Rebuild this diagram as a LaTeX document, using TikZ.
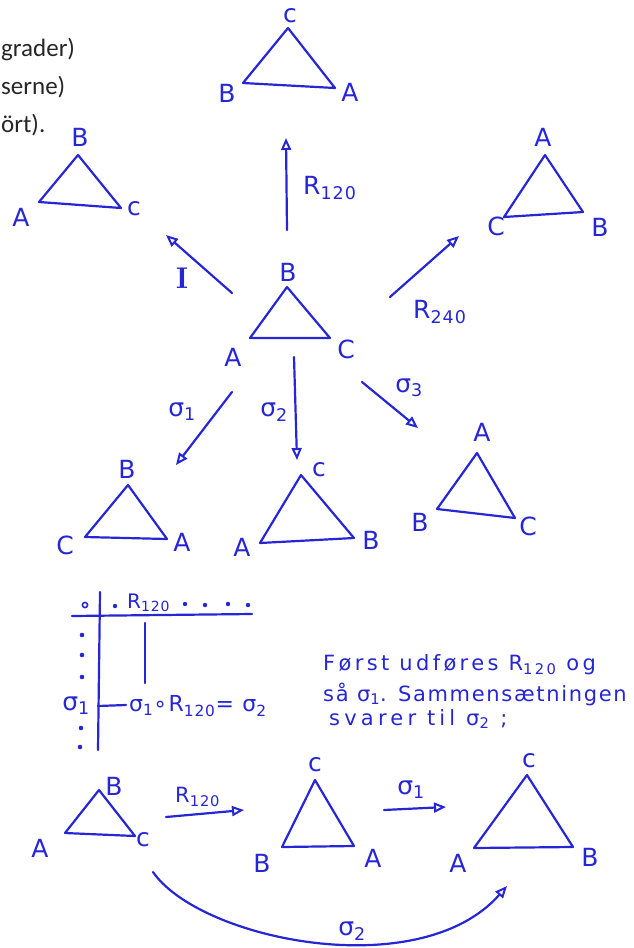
\documentclass[tikz,border=0pt]{standalone}
\usepackage{fontspec}
\setmainfont{Carlito}
\newfontfamily\hand[LetterSpace=6]{DejaVu Sans}
\usepackage{xcolor}
\usepackage{tikz}
\usetikzlibrary{arrows.meta}
\definecolor{ink}{RGB}{38,38,212}
\definecolor{slide}{RGB}{38,38,38}

\begin{document}
\begin{tikzpicture}[x=1pt, y=-1pt,
    pen/.style={ink, line width=2.2pt, line join=round, line cap=round},
    arr/.style={pen, -{Triangle[open, length=12pt, width=10pt, line width=2pt]}},
    lbl/.style={text=ink, inner sep=0pt, font=\hand\fontsize{25}{27}\selectfont},
    sm/.style={lbl, font=\hand\fontsize{20}{22}\selectfont},
    note/.style={lbl, anchor=west, font=\hand\fontsize{21}{24}\selectfont},
    slidetxt/.style={anchor=base west, inner sep=0pt, font=\fontsize{25}{28}\selectfont, text=slide}]
  \useasboundingbox (0,0) rectangle (633,948);

  \node[slidetxt] (line1) at (1,56) {grader)};
  \node[slidetxt] (line2) at (1,94) {serne)};
  \node[slidetxt] (line3) at (1,132) {ört).};

  % start position
  \draw[pen] (250,338) -- (287,287) -- (330,338) -- cycle;
  \node[lbl] (midB) at (288,272) {B};
  \node[lbl] (midA) at (233,357) {A};
  \node[lbl] (midC) at (346,349) {C};

  % results of the six moves
  \draw[pen] (243,83) -- (288,28) -- (335,88) -- cycle;
  \node[lbl] (topC) at (290,16) {c};
  \node[lbl] (topB) at (227,93) {B};
  \node[lbl] (topA) at (350,92) {A};

  \draw[pen] (39,202) -- (78,155) -- (121,208) -- cycle;
  \node[lbl] (idB) at (80,137) {B};
  \node[lbl] (idA) at (21,217) {A};
  \node[lbl] (idC) at (134,209) {c};

  \draw[pen] (504,217) -- (545,155) -- (583,212) -- cycle;
  \node[lbl] (rgtA) at (543,137) {A};
  \node[lbl] (rgtC) at (496,226) {C};
  \node[lbl] (rgtB) at (600,227) {B};

  \draw[pen] (85,537) -- (128,485) -- (167,539) -- cycle;
  \node[lbl] (oneB) at (127,469) {B};
  \node[lbl] (oneC) at (65,545) {C};
  \node[lbl] (oneA) at (182,542) {A};

  \draw[pen] (260,543) -- (301,475) -- (354,538) -- cycle;
  \node[lbl] (twoC) at (319,470) {c};
  \node[lbl] (twoA) at (242,547) {A};
  \node[lbl] (twoB) at (371,540) {B};

  \draw[pen] (437,509) -- (477,453) -- (515,518) -- cycle;
  \node[lbl] (thrA) at (482,432) {A};
  \node[lbl] (thrB) at (420,522) {B};
  \node[lbl] (thrC) at (528,526) {C};

  % moves
  \coordinate (idS) at (232,293);  \coordinate (idE) at (166,235);
  \coordinate (r1S) at (287,230);  \coordinate (r1E) at (286,138);
  \coordinate (r2S) at (390,297);  \coordinate (r2E) at (459,236);
  \coordinate (s1S) at (232,392);  \coordinate (s1E) at (176,465);
  \coordinate (s2S) at (294,357);  \coordinate (s2E) at (297,460);
  \coordinate (s3S) at (362,382);  \coordinate (s3E) at (418,428);
  \draw[arr] (idS) -- (idE);
  \draw[arr] (r1S) -- (r1E);
  \draw[arr] (r2S) -- (r2E);
  \draw[arr] (s1S) -- (s1E);
  \draw[arr] (s2S) -- (s2E);
  \draw[arr] (s3S) -- (s3E);
  \node[lbl, font=\fontfamily{lmr}\selectfont\fontsize{30}{32}\selectfont\bfseries] (idL) at (182,278) {I};
  \node[lbl, anchor=west] (r1L) at (303,188) {R\textsubscript{120}};
  \node[lbl, anchor=west] (r2L) at (413,312) {R\textsubscript{240}};
  \node[lbl] (s1L) at (182,412) {σ\textsubscript{1}};
  \node[lbl] (s2L) at (274,412) {σ\textsubscript{2}};
  \node[lbl] (s3L) at (409,388) {σ\textsubscript{3}};

  % table
  \draw[pen, line width=1.6pt] (85,605) circle (2.6);
  \coordinate (op) at (85,605);
  \draw[pen] (100,592) -- (98,750);
  \draw[pen] (72,616) -- (252,614);
  \node[sm, anchor=west] (colR) at (127,603) {R\textsubscript{120}};
  \draw[pen] (145,623) -- (145,683);
  \fill[ink] (115,606) circle (2.2) (185,604) circle (2.2) (205,605) circle (2.2)
             (228,604) circle (2.2) (248,605) circle (2.2);
  \fill[ink] (82,635) circle (2.3) (82,655) circle (2.3) (82,677) circle (2.3)
             (81,728) circle (2.3) (80,747) circle (2.3);
  \node[lbl] (rowS) at (76,706) {σ\textsubscript{1}};
  \coordinate (dashE) at (126,705);
  \draw[pen] (rowS.east) ++(8,0) -- (dashE);
  \node[lbl, anchor=west, font=\hand\fontsize{22}{24}\selectfont] (prod) at (129,706)
    {σ\textsubscript{1}∘R\textsubscript{120}= σ\textsubscript{2}};

  \node[note, font=\hand\addfontfeature{LetterSpace=16}\fontsize{21}{24}\selectfont] (txt1) at (323,665)
    {Først udføres R\textsubscript{120} og};
  \node[note, font=\hand\addfontfeature{LetterSpace=8}\fontsize{21}{24}\selectfont] (txt2) at (323,694)
    {så σ\textsubscript{1}. Sammensætningen};
  \node[note, font=\hand\addfontfeature{LetterSpace=20}\fontsize{21}{24}\selectfont] (txt3) at (329,719)
    {svarer til σ\textsubscript{2} ;};

  % composition
  \draw[pen] (65,833) -- (99,790) -- (135,836) -- cycle;
  \node[lbl] (aB) at (114,786) {B};
  \node[lbl] (aA) at (40,848) {A};
  \node[lbl] (aC) at (143,840) {c};

  \draw[pen] (282,847) -- (315,780) -- (354,846) -- cycle;
  \node[lbl] (bC) at (315,765) {c};
  \node[lbl] (bB) at (262,863) {B};
  \node[lbl] (bA) at (373,858) {A};

  \draw[pen] (474,848) -- (527,775) -- (573,847) -- cycle;
  \node[lbl] (cC) at (529,761) {c};
  \node[lbl] (cA) at (458,863) {A};
  \node[lbl] (cB) at (590,857) {B};

  \coordinate (m1S) at (166,817);  \coordinate (m1E) at (244,810);
  \coordinate (m2S) at (384,810);  \coordinate (m2E) at (446,807);
  \coordinate (m3S) at (153,872);  \coordinate (m3E) at (507,886);
  \draw[arr] (m1S) -- (m1E);
  \draw[arr] (m2S) -- (m2E);
  \draw[arr] (m3S) .. controls (200,940) and (420,985) .. (m3E);
  \node[lbl, anchor=west, font=\hand\fontsize{21}{23}\selectfont] (m1L) at (175,797) {R\textsubscript{120}};
  \node[lbl] (m2L) at (411,790) {σ\textsubscript{1}};
  \node[lbl] (m3L) at (352,931) {σ\textsubscript{2}};
\end{tikzpicture}
\end{document}
